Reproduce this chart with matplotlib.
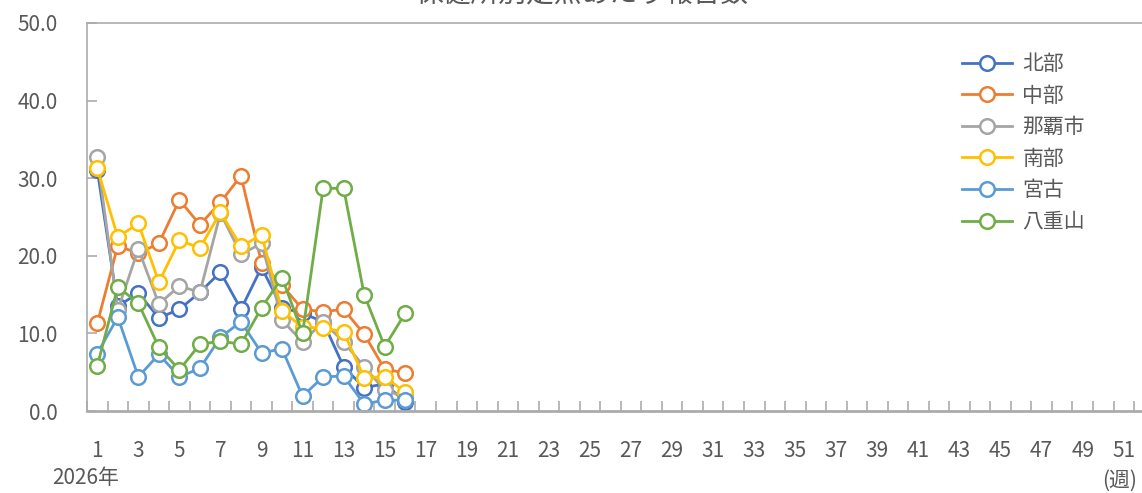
import numpy as np
import matplotlib
matplotlib.use("Agg")
import matplotlib.pyplot as plt
from matplotlib.ticker import FixedLocator, NullFormatter

plt.rcParams['font.family'] = ['Noto Sans CJK JP', 'DejaVu Sans']

# weekly values per health center (weeks 1-16 of 2026)
weeks = np.arange(1, 17)
hokubu = [31.1, 13.5, 15.2, 12.0, 13.1, 15.3, 17.9, 13.1, 18.5, 13.3, 12.6, 11.5, 5.7, 3.0, 3.5, 1.2]
chubu = [11.3, 21.3, 20.3, 21.6, 27.2, 24.0, 26.9, 30.3, 19.1, 16.2, 13.1, 12.8, 13.1, 9.9, 5.4, 4.9]
naha = [32.7, 13.0, 20.9, 13.8, 16.1, 15.3, 25.5, 20.2, 21.6, 11.7, 8.9, 11.5, 8.9, 5.7, 2.7, 1.8]
nanbu = [31.3, 22.4, 24.2, 16.6, 22.0, 21.0, 25.6, 21.2, 22.7, 12.9, 10.8, 10.7, 10.2, 4.3, 4.4, 2.4]
miyako = [7.4, 12.1, 4.4, 7.3, 4.4, 5.5, 9.5, 11.5, 7.5, 8.0, 1.9, 4.4, 4.5, 0.9, 1.4, 1.4]
yaeyama = [5.8, 16.0, 13.9, 8.2, 5.3, 8.6, 9.0, 8.6, 13.3, 17.2, 10.0, 28.7, 28.7, 15.0, 8.3, 12.6]

names = ["北部", "中部", "那覇市", "南部", "宮古", "八重山"]
colors = ["#4472C4", "#ED7D31", "#A5A5A5", "#FFC000", "#5B9BD5", "#70AD47"]
series = [hokubu, chubu, naha, nanbu, miyako, yaeyama]

txt = "#595959"
axcol = "#ABABAB"
fs = 15

fig = plt.figure(figsize=(11.42, 4.93), dpi=100)
# plot area runs past the right edge (cropped chart)
ax = fig.add_axes([87/1142, 1 - 411/493, 1067.6/1142, 388/493])

for vals, name, c in zip(series, names, colors):
    ax.plot(weeks, vals, color=c, lw=2, marker='o', ms=10.5, mfc='white',
            mec=c, mew=1.8, label=name, clip_on=False)

ax.set_xlim(0.5, 52.5)
ax.set_ylim(0, 50)

ax.set_xticks(np.arange(1, 53, 2))
ax.set_xticklabels([str(w) for w in range(1, 53, 2)])
ax.xaxis.set_minor_locator(FixedLocator(np.arange(0.5, 53, 1)))
ax.xaxis.set_minor_formatter(NullFormatter())
ax.tick_params(axis='x', which='major', length=0, pad=21, labelsize=fs, labelcolor=txt)
ax.tick_params(axis='x', which='minor', direction='in', length=7, width=1.2, color=axcol)

ax.set_yticks(np.arange(0, 51, 10))
ax.set_yticklabels([f"{v:.1f}" for v in range(0, 51, 10)])
ax.tick_params(axis='y', direction='in', length=7, width=1.2, color=axcol,
               pad=21, labelsize=fs, labelcolor=txt)

for s in ax.spines.values():
    s.set_color(axcol)
    s.set_linewidth(1.2)
ax.spines['bottom'].set_linewidth(2)

fig.text(582/1142, 1 + 7/493, "保健所別定点あたり報告数", ha='center', va='center',
         fontsize=20, color=txt)
fig.text(52/1142, 1 - 478/493, "2026年", ha='left', va='center', fontsize=fs, color=txt)
fig.text(1102/1142, 1 - 481/493, "(週)", ha='left', va='center', fontsize=fs, color=txt)

leg = ax.legend(loc='upper left', bbox_to_anchor=(962/1142, 1 - 53/493),
                bbox_transform=fig.transFigure, frameon=False, fontsize=fs,
                handlelength=2.4, handletextpad=0.5, labelspacing=0.46,
                borderpad=0, borderaxespad=0)
for t in leg.get_texts():
    t.set_color(txt)

fig.savefig("out.png", dpi=100)
